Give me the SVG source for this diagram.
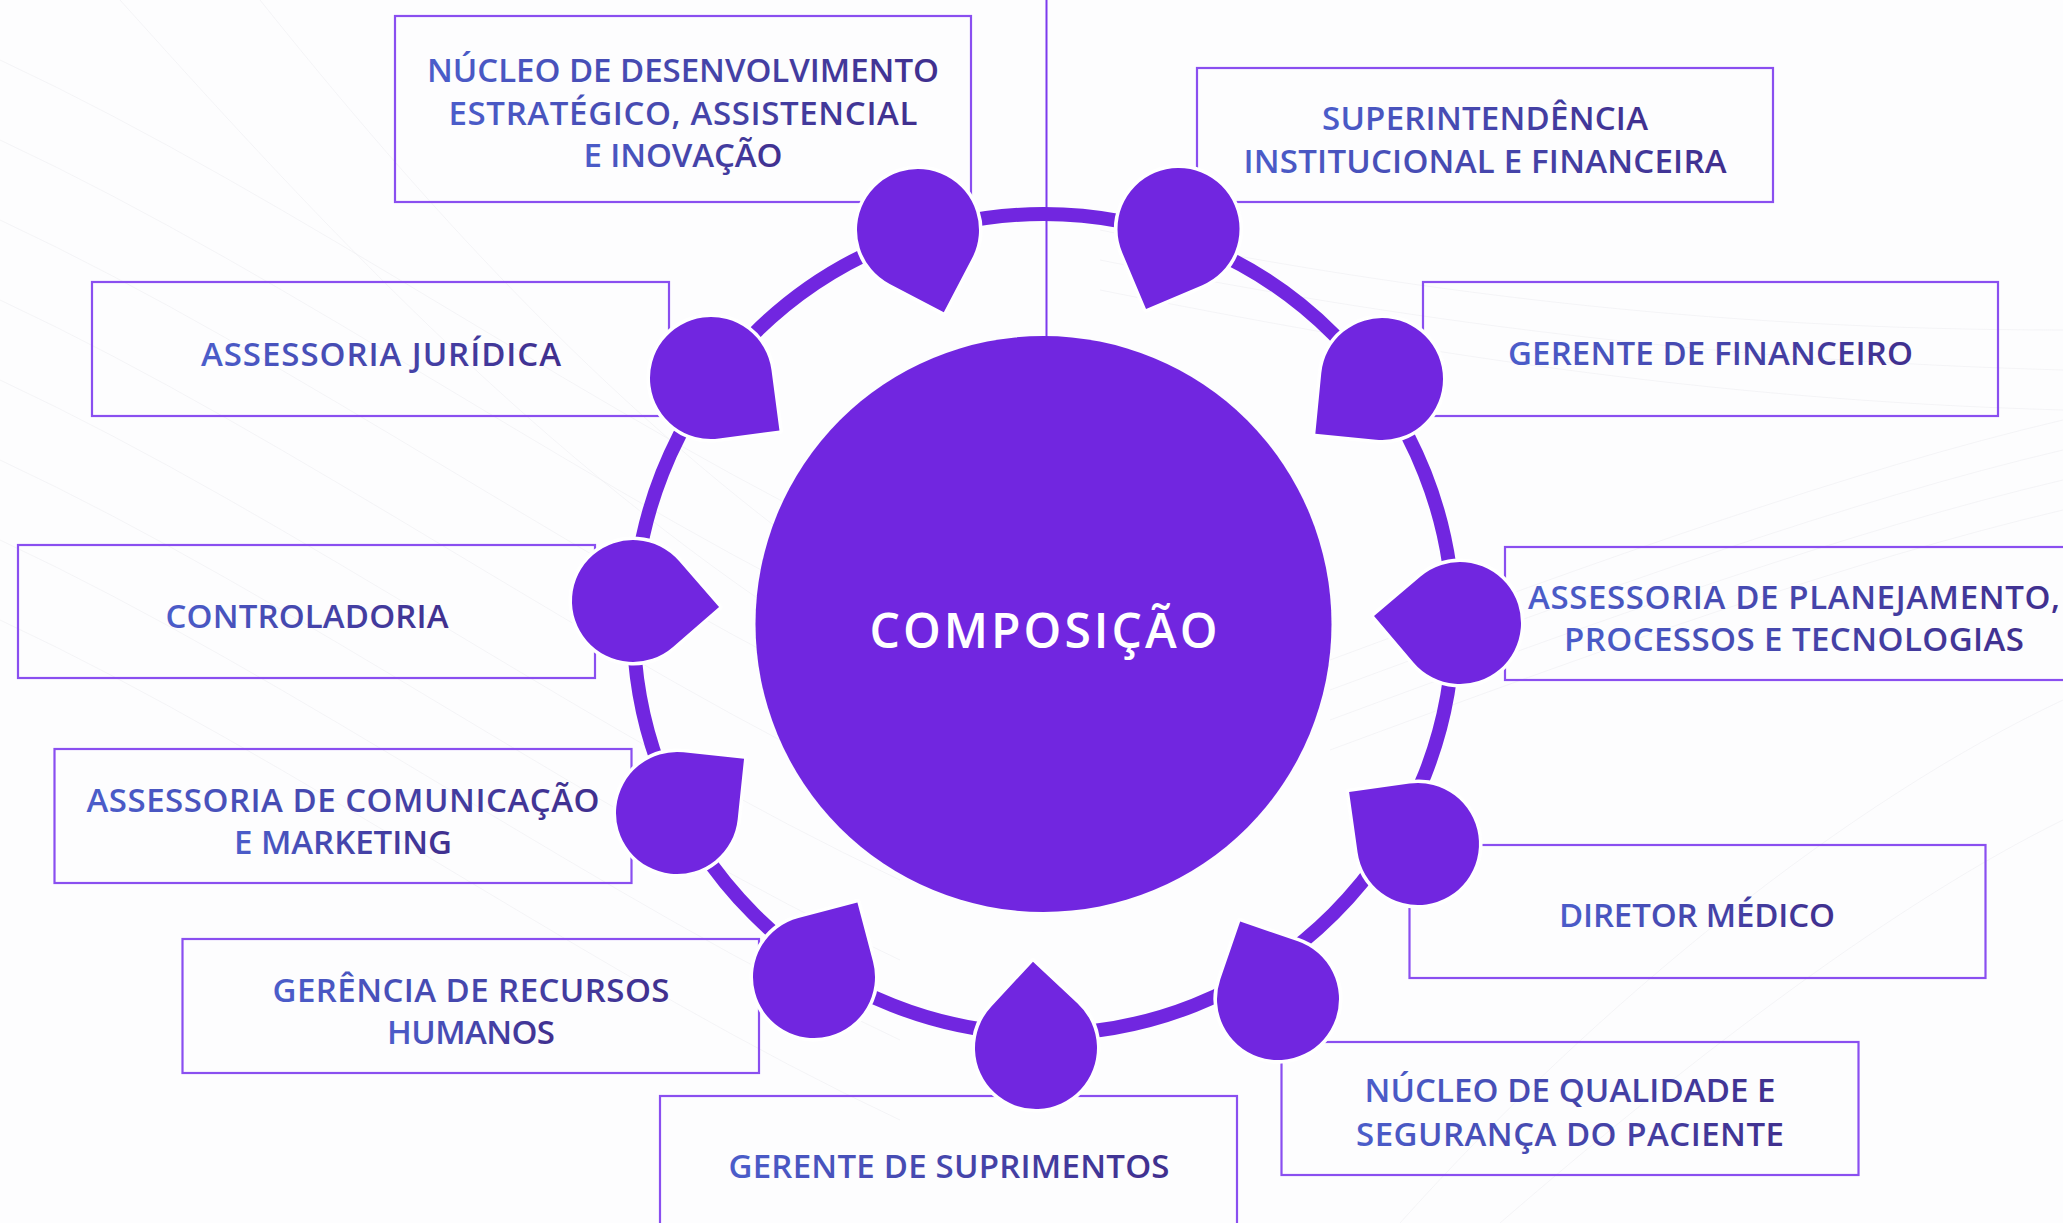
<svg xmlns="http://www.w3.org/2000/svg" xmlns:xlink="http://www.w3.org/1999/xlink" width="2063" height="1223" viewBox="0 0 2063 1223">
  <defs>
    <linearGradient id="tg" x1="0" y1="0" x2="1" y2="0">
      <stop offset="0" stop-color="#4b5dca"/>
      <stop offset="1" stop-color="#402f8e"/>
    </linearGradient>
    <path id="pin" d="M86.27,0 L43.13,43.13 A61,61 0 1 1 43.13,-43.13 Z"/>
    <style>
      .bg { fill: none; stroke: #ececf0; stroke-width: 1; opacity: 0.55; }
      .box { fill: none; stroke: #8a4ff0; stroke-width: 2.2; }
      .lbl { font-family: "Open Sans", "Lato", "Liberation Sans", sans-serif; font-weight: 600; font-size: 33px; text-anchor: middle; fill: url(#tg); }
      .pin { fill: #7126e0; stroke: #ffffff; stroke-width: 7; stroke-linejoin: round; paint-order: stroke; }
      .ring { fill: none; stroke: #7126e0; stroke-width: 14; }
      .vline { stroke: #7c3aed; stroke-width: 2; }
      .hub { fill: #7126e0; }
      .hubtxt { font-family: "Open Sans", "Lato", "Liberation Sans", sans-serif; font-weight: 600; font-size: 48px; text-anchor: middle; fill: #ffffff; }
    </style>
  </defs>

  <rect x="0" y="0" width="2063" height="1223" fill="#fdfdfe"/>

  <g id="background">
    <path class="bg" d="M0,60 C300,200 600,420 900,560"/>
    <path class="bg" d="M0,140 C300,280 600,500 900,640"/>
    <path class="bg" d="M0,220 C300,360 600,580 900,720"/>
    <path class="bg" d="M0,300 C300,440 600,660 900,800"/>
    <path class="bg" d="M0,380 C300,520 600,740 900,880"/>
    <path class="bg" d="M0,460 C300,600 600,820 900,960"/>
    <path class="bg" d="M0,540 C300,680 600,900 900,1040"/>
    <path class="bg" d="M0,620 C300,760 600,980 900,1120"/>
    <path class="bg" d="M120,0 C300,200 500,420 760,600"/>
    <path class="bg" d="M260,0 C420,200 600,400 820,560"/>
    <path class="bg" d="M1100,230 C1400,290 1700,330 2063,330"/>
    <path class="bg" d="M1100,260 C1400,320 1700,360 2063,370"/>
    <path class="bg" d="M1100,290 C1400,350 1700,400 2063,410"/>
    <path class="bg" d="M1330,660 C1600,560 1850,470 2063,420"/>
    <path class="bg" d="M1330,690 C1600,590 1850,500 2063,450"/>
    <path class="bg" d="M1330,720 C1600,620 1850,530 2063,480"/>
    <path class="bg" d="M1330,750 C1600,650 1850,560 2063,510"/>
    <path class="bg" d="M1400,1223 C1600,1000 1850,800 2063,700"/>
    <path class="bg" d="M1500,1223 C1700,1050 1900,900 2063,820"/>
  </g>

  <g id="connectors">
    <line class="vline" x1="1046.5" y1="0" x2="1046.5" y2="340"/>
    <circle class="ring" cx="1043.5" cy="624" r="410"/>
  </g>

  <g id="node-nucleo-desenvolvimento">
    <rect class="box" x="395" y="16" width="576" height="186"/>
    <text class="lbl" x="683" y="82" textLength="512" lengthAdjust="spacing">NÚCLEO DE DESENVOLVIMENTO</text>
    <text class="lbl" x="683" y="125" textLength="469" lengthAdjust="spacing">ESTRATÉGICO, ASSISTENCIAL</text>
    <text class="lbl" x="683" y="167" textLength="199" lengthAdjust="spacing">E INOVAÇÃO</text>
    <use class="pin" href="#pin" transform="translate(918,230) rotate(72.6)"/>
  </g>

  <g id="node-superintendencia">
    <rect class="box" x="1197" y="68" width="576" height="134"/>
    <text class="lbl" x="1485" y="130" textLength="326" lengthAdjust="spacing">SUPERINTENDÊNCIA</text>
    <text class="lbl" x="1485" y="172.5" textLength="483" lengthAdjust="spacing">INSTITUCIONAL E FINANCEIRA</text>
    <use class="pin" href="#pin" transform="translate(1178.5,229) rotate(112.1)"/>
  </g>

  <g id="node-assessoria-juridica">
    <rect class="box" x="92" y="282" width="577" height="134"/>
    <text class="lbl" x="381" y="366" textLength="360" lengthAdjust="spacing">ASSESSORIA JURÍDICA</text>
    <use class="pin" href="#pin" transform="translate(711,378) rotate(37.5)"/>
  </g>

  <g id="node-gerente-financeiro">
    <rect class="box" x="1423" y="282" width="575" height="134"/>
    <text class="lbl" x="1710.5" y="365" textLength="405" lengthAdjust="spacing">GERENTE DE FINANCEIRO</text>
    <use class="pin" href="#pin" transform="translate(1382,379) rotate(140.6)"/>
  </g>

  <g id="node-controladoria">
    <rect class="box" x="18" y="545" width="577" height="133"/>
    <text class="lbl" x="307" y="628" textLength="283" lengthAdjust="spacing">CONTROLADORIA</text>
    <use class="pin" href="#pin" transform="translate(633,601) rotate(4)"/>
  </g>

  <g id="node-assessoria-planejamento">
    <rect class="box" x="1505" y="547" width="576" height="133"/>
    <text class="lbl" x="1794" y="609" textLength="532" lengthAdjust="spacing">ASSESSORIA DE PLANEJAMENTO,</text>
    <text class="lbl" x="1794" y="651" textLength="460" lengthAdjust="spacing">PROCESSOS E TECNOLOGIAS</text>
    <use class="pin" href="#pin" transform="translate(1460,623) rotate(184.7)"/>
  </g>

  <g id="node-assessoria-comunicacao">
    <rect class="box" x="54.5" y="749" width="577" height="134"/>
    <text class="lbl" x="343" y="812" textLength="513" lengthAdjust="spacing">ASSESSORIA DE COMUNICAÇÃO</text>
    <text class="lbl" x="343" y="854" textLength="218" lengthAdjust="spacing">E MARKETING</text>
    <use class="pin" href="#pin" transform="translate(677,813) rotate(-39)"/>
  </g>

  <g id="node-diretor-medico">
    <rect class="box" x="1409.5" y="845" width="576" height="133"/>
    <text class="lbl" x="1697" y="927" textLength="276" lengthAdjust="spacing">DIRETOR MÉDICO</text>
    <use class="pin" href="#pin" transform="translate(1418,844) rotate(217)"/>
  </g>

  <g id="node-gerencia-rh">
    <rect class="box" x="182.5" y="939" width="576.5" height="134"/>
    <text class="lbl" x="471" y="1002" textLength="397" lengthAdjust="spacing">GERÊNCIA DE RECURSOS</text>
    <text class="lbl" x="471" y="1044" textLength="168" lengthAdjust="spacing">HUMANOS</text>
    <use class="pin" href="#pin" transform="translate(814,977) rotate(-59.8)"/>
  </g>

  <g id="node-nucleo-qualidade">
    <rect class="box" x="1281.5" y="1042" width="577" height="133"/>
    <text class="lbl" x="1570" y="1102" textLength="411" lengthAdjust="spacing">NÚCLEO DE QUALIDADE E</text>
    <text class="lbl" x="1570" y="1145.5" textLength="428" lengthAdjust="spacing">SEGURANÇA DO PACIENTE</text>
    <use class="pin" href="#pin" transform="translate(1278,999) rotate(244)"/>
  </g>

  <g id="node-gerente-suprimentos">
    <rect class="box" x="660" y="1096" width="577" height="134"/>
    <text class="lbl" x="949" y="1178" textLength="441" lengthAdjust="spacing">GERENTE DE SUPRIMENTOS</text>
    <use class="pin" href="#pin" transform="translate(1036,1048) rotate(268)"/>
  </g>

  <g id="node-composicao">
    <circle class="hub" cx="1043.5" cy="624" r="288"/>
    <text class="hubtxt" x="1043.5" y="648" textLength="348" lengthAdjust="spacing">COMPOSIÇÃO</text>
  </g>
</svg>
